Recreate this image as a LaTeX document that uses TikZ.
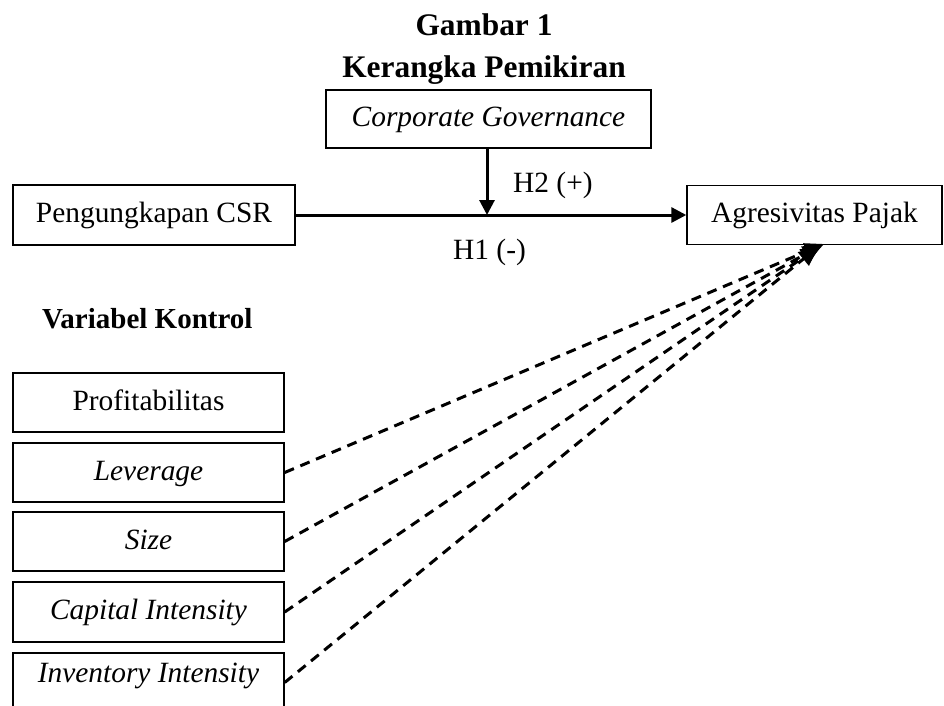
\documentclass[tikz,border=0pt]{standalone}
\usepackage{fontspec}
\setmainfont{Liberation Serif}
\usetikzlibrary{arrows.meta}
\begin{document}
\begin{tikzpicture}[x=1pt,y=-1pt,
  txt/.style={inner sep=0pt,font=\fontsize{29.4}{35}\selectfont},
  ttl/.style={inner sep=0pt,font=\fontsize{31.4}{37}\selectfont\bfseries},
  box/.style={draw,line width=1.4pt,inner sep=0pt,text height=20pt,text depth=5pt,
    font=\fontsize{29.4}{35}\selectfont},
  solidarrow/.style={line width=3pt,-{Triangle[length=15pt,width=15pt]}},
  dasharrow/.style={line width=3pt,dash pattern=on 10pt off 7pt,-{Triangle[length=19pt,width=17pt]}}
]
\clip (0,0) rectangle (944,705);
\fill[white] (0,0) rectangle (944,705);
% titles
\node[ttl,anchor=base] (t1) at (484,35) {Gambar 1};
\node[ttl,anchor=base] (t2) at (484,77) {Kerangka Pemikiran};
% main boxes
\node[box,minimum width=325pt,minimum height=58pt] (cg) at (488.5,119) {\textit{Corporate Governance}};
\node[box,minimum width=282pt,minimum height=60pt] (csr) at (154,215) {Pengungkapan CSR};
\node[box,minimum width=255pt,minimum height=59pt] (agr) at (814.5,215) {Agresivitas Pajak};
\coordinate (m) at (487,215);
\draw[solidarrow] (csr.east) -- (agr.west);
\draw[solidarrow] (cg.south -| m) -- (m);
\node[txt,anchor=base west] (h2) at (513,192) {H2 (+)};
\node[txt,anchor=base west] (h1) at (453,259) {H1 (-)};
% control variables
\node[txt,font=\fontsize{29}{35}\selectfont\bfseries,anchor=base west] (vk) at (42,328) {Variabel Kontrol};
\node[box,minimum width=271pt,minimum height=59pt] (prof) at (148.5,402.5) {Profitabilitas};
\node[box,minimum width=271pt,minimum height=59pt] (lev) at (148.5,472.5) {\textit{Leverage}};
\node[box,minimum width=271pt,minimum height=59pt] (size) at (148.5,541.5) {\textit{Size}};
\node[box,minimum width=271pt,minimum height=60pt] (cap) at (148.5,612) {\textit{Capital Intensity}};
\node[draw,line width=1.4pt,minimum width=271pt,minimum height=59pt,inner sep=0pt] (inv) at (148.5,682.5) {};
\node[txt,anchor=base] (invt) at (148.5,682) {\textit{Inventory Intensity}};
% dashed arrows
\coordinate (e1) at (824,244);
\coordinate (e2) at (822,245);
\coordinate (e3) at (820,246);
\coordinate (e4) at (818,247);
\draw[dasharrow] (lev.east) -- (e1);
\draw[dasharrow] (size.east) -- (e2);
\draw[dasharrow] (cap.east) -- (e3);
\draw[dasharrow] (inv.east) -- (e4);
\end{tikzpicture}
\end{document}
